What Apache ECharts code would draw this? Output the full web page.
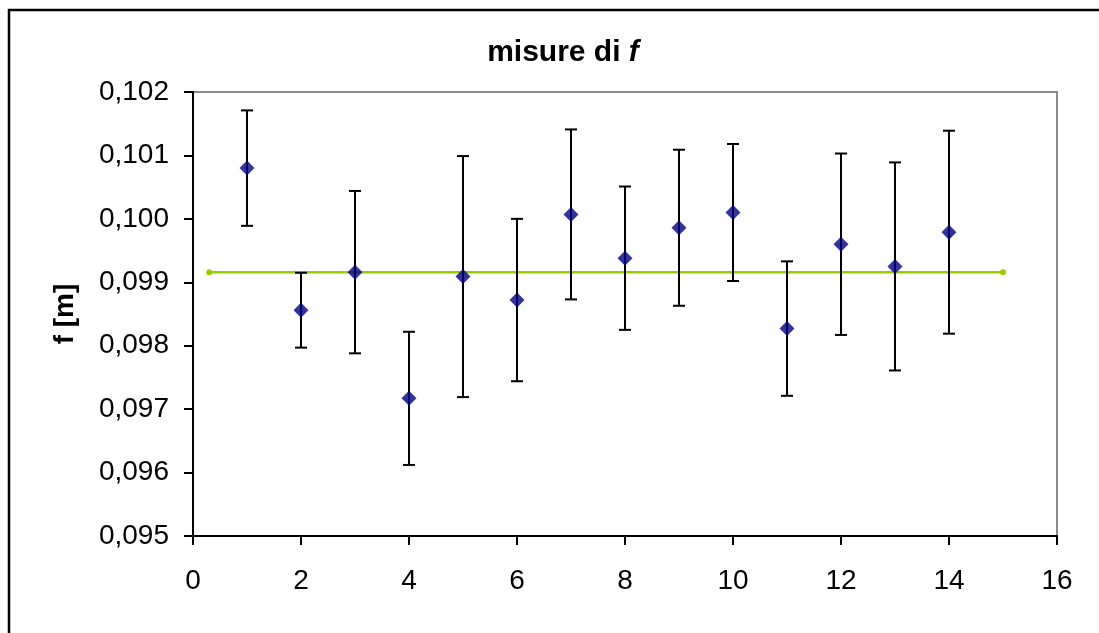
<!DOCTYPE html>
<html>
<head>
<meta charset="utf-8">
<script src="https://cdn.jsdelivr.net/npm/echarts@6/dist/echarts.min.js"></script>
<style>
html,body{margin:0;padding:0;background:#fff;}
#c{width:1099px;height:633px;}
</style>
</head>
<body>
<div id="c"></div>
<script>
// measurement index (x)
const measureIndex = [1,2,3,4,5,6,7,8,9,10,11,12,13,14];
// measured focal length f [m]
const fValues = [0.10080,0.09856,0.09916,0.09717,0.09909,0.09872,0.10007,0.09938,0.09986,0.10010,0.09827,0.09960,0.09925,0.09979];
// error half-widths [m]
const fErrors = [0.00091,0.00059,0.00128,0.00105,0.00190,0.00128,0.00134,0.00113,0.00123,0.00108,0.00106,0.00143,0.00164,0.00160];
// mean line endpoints
const meanX = [0.3, 15];
const meanValue = 0.09916;
// axes
const yTicks = [0.095,0.096,0.097,0.098,0.099,0.100,0.101,0.102];
const xTicks = [0,2,4,6,8,10,12,14,16];

const chart = echarts.init(document.getElementById('c'), null, {renderer:'canvas'});
const FONT = '"Liberation Sans", Arial, sans-serif';

const points = measureIndex.map((x,i)=>[x,fValues[i]]);
const errData = measureIndex.map((x,i)=>[x,fValues[i]-fErrors[i],fValues[i]+fErrors[i]]);
const meanData = meanX.map(x=>[x,meanValue]);

chart.setOption({
  animation:false,
  backgroundColor:'#fff',
  graphic:[{
    type:'polyline',
    shape:{points:[[9,700],[9,10],[1200,10]]},
    style:{stroke:'#000',lineWidth:2.5,fill:null},
    z:100
  }],
  title:{
    text:'{b|misure di }{i|f}',
    left:558, top:33, textAlign:'center',
    textStyle:{
      rich:{
        b:{fontFamily:FONT,fontSize:30,fontWeight:'bold',color:'#000'},
        i:{fontFamily:FONT,fontSize:30,fontWeight:'bold',fontStyle:'italic',color:'#000'}
      }
    }
  },
  grid:{left:193,top:92,width:864,height:444,show:true,borderColor:'#8c8c8c',borderWidth:2,backgroundColor:'#fff'},
  xAxis:{
    type:'value',min:xTicks[0],max:xTicks[xTicks.length-1],interval:2,
    axisLine:{show:true,onZero:false,lineStyle:{color:'#000',width:2}},
    axisTick:{show:true,inside:false,length:9,lineStyle:{color:'#000',width:2}},
    axisLabel:{fontFamily:FONT,fontSize:28,color:'#000',margin:31},
    splitLine:{show:false}
  },
  yAxis:{
    type:'value',min:yTicks[0],max:yTicks[yTicks.length-1],interval:0.001,
    name:'f [m]',nameLocation:'middle',nameGap:114,
    nameTextStyle:{fontFamily:FONT,fontSize:28,fontWeight:'bold',color:'#000'},
    axisLine:{show:true,lineStyle:{color:'#000',width:2}},
    axisTick:{show:true,inside:false,length:9,lineStyle:{color:'#000',width:2}},
    axisLabel:{fontFamily:FONT,fontSize:28,color:'#000',margin:24,
      formatter:v=>v.toFixed(3).replace('.',',')},
    splitLine:{show:false}
  },
  series:[
    {
      type:'line',data:meanData,symbol:'circle',symbolSize:6,
      lineStyle:{color:'#99cc00',width:2.5},itemStyle:{color:'#99cc00'},z:2
    },
    {
      type:'custom',data:errData,z:3,
      renderItem:(params,api)=>{
        const x=api.value(0);
        const lo=api.coord([x,api.value(1)]);
        const hi=api.coord([x,api.value(2)]);
        const hw=6;
        const st={stroke:'#000',lineWidth:2};
        return {type:'group',children:[
          {type:'line',shape:{x1:lo[0],y1:lo[1],x2:hi[0],y2:hi[1]},style:st},
          {type:'line',shape:{x1:lo[0]-hw,y1:lo[1],x2:lo[0]+hw,y2:lo[1]},style:st},
          {type:'line',shape:{x1:hi[0]-hw,y1:hi[1],x2:hi[0]+hw,y2:hi[1]},style:st}
        ]};
      }
    },
    {
      type:'scatter',data:points,symbol:'diamond',symbolSize:[15,15],
      itemStyle:{color:'#000080'},z:4
    }
  ]
});
</script>
</body>
</html>
